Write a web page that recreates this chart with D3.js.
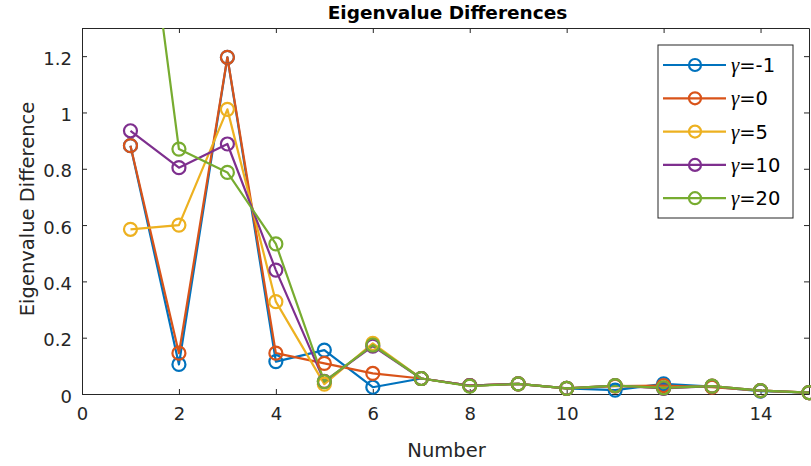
<!DOCTYPE html>
<html><head><meta charset="utf-8">
<script src="https://cdn.jsdelivr.net/npm/d3@7"></script>
<style>body{margin:0;background:#fff;} svg{display:block;}</style>
</head><body>
<svg id="chart" width="811" height="466"></svg>
<script>
const numbers = [1,2,3,4,5,6,7,8,9,10,11,12,13,14,15];
const seriesNames = ["-1","0","5","10","20"];
const gammaM1 = [0.882,0.105,1.196,0.115,0.156,0.024,0.055,0.03,0.036,0.02,0.014,0.036,0.026,0.01,0.005];
const gamma0  = [0.882,0.145,1.196,0.145,0.109,0.073,0.055,0.03,0.036,0.02,0.028,0.03,0.024,0.012,0.005];
const gamma5  = [0.585,0.60,1.011,0.328,0.035,0.18,0.055,0.03,0.036,0.02,0.03,0.022,0.028,0.012,0.005];
const gamma10 = [0.935,0.804,0.888,0.44,0.045,0.17,0.055,0.03,0.036,0.02,0.03,0.02,0.028,0.012,0.005];
const gamma20 = [2.19,0.87,0.787,0.533,0.044,0.174,0.055,0.028,0.036,0.02,0.03,0.022,0.028,0.012,0.005];
const seriesValues = [gammaM1, gamma0, gamma5, gamma10, gamma20];
const colors = ["#0072BD","#D95319","#EDB120","#7E2F8E","#77AC30"];
const xTicks = [0,2,4,6,8,10,12,14];
const yTicks = [0,0.2,0.4,0.6,0.8,1,1.2];
const yTickLabels = ["0","0.2","0.4","0.6","0.8","1","1.2"];

const svg = d3.select("#chart");
const L = 82, R = 809, T = 28, B = 394;
const x = d3.scaleLinear().domain([0,15]).range([L,R]);
const y = d3.scaleLinear().domain([0,1.3]).range([B,T]);
const axisColor = "#262626";
const font = "'DejaVu Sans', Verdana, sans-serif";

svg.append("defs").append("clipPath").attr("id","clip")
  .append("rect").attr("x",L).attr("y",T).attr("width",R-L).attr("height",B-T);

const gx = svg.append("g").attr("transform",`translate(0,${B})`)
  .call(d3.axisBottom(x).tickValues(xTicks).tickSizeInner(-5).tickSizeOuter(0).tickPadding(13).tickFormat(d3.format("d")));
const gxTop = svg.append("g").attr("transform",`translate(0,${T})`)
  .call(d3.axisTop(x).tickValues(xTicks).tickSizeInner(-5).tickSizeOuter(0).tickFormat(""));
const gy = svg.append("g").attr("transform",`translate(${L},0)`)
  .call(d3.axisLeft(y).tickValues(yTicks).tickSizeInner(-5).tickSizeOuter(0).tickPadding(10).tickFormat((d,i)=>yTickLabels[i]));
const gyR = svg.append("g").attr("transform",`translate(${R},0)`)
  .call(d3.axisRight(y).tickValues(yTicks).tickSizeInner(-5).tickSizeOuter(0).tickFormat(""));
[gx,gxTop,gy,gyR].forEach(g=>{
  g.select(".domain").attr("stroke",axisColor).attr("stroke-width",1);
  g.selectAll(".tick line").attr("stroke",axisColor).attr("stroke-width",1);
  g.selectAll(".tick text").attr("fill",axisColor).style("font-family",font).style("font-size","18px");
});
gy.selectAll(".tick text").attr("dy","0.45em");

const plot = svg.append("g").attr("clip-path","url(#clip)");
const line = d3.line().x((d,i)=>x(numbers[i])).y(d=>y(d));
seriesValues.forEach((vals,si)=>{
  plot.append("path").datum(vals).attr("d",line).attr("fill","none")
    .attr("stroke",colors[si]).attr("stroke-width",2.2).attr("stroke-linejoin","round");
});
const markers = svg.append("g");
seriesValues.forEach((vals,si)=>{
  markers.selectAll(null).data(vals.map((v,i)=>[numbers[i],v]).filter(d=>d[1]<=1.3))
    .enter().append("circle")
    .attr("cx",d=>x(d[0])).attr("cy",d=>y(d[1])).attr("r",6.5)
    .attr("fill","none").attr("stroke",colors[si]).attr("stroke-width",2.2);
});

svg.append("text").attr("x",(L+R)/2+2).attr("y",19).attr("text-anchor","middle")
  .style("font-family",font).style("font-weight","bold").style("font-size","18.5px").attr("fill","#000")
  .text("Eigenvalue Differences");
svg.append("text").attr("x",(L+R)/2+1).attr("y",457).attr("text-anchor","middle")
  .style("font-family",font).style("font-size","19.5px").attr("fill",axisColor).text("Number");
svg.append("text").attr("transform",`translate(34,${(T+B)/2-2}) rotate(-90)`).attr("text-anchor","middle")
  .style("font-family",font).style("font-size","19.5px").attr("fill",axisColor).text("Eigenvalue Difference");

const lg = svg.append("g");
lg.append("rect").attr("x",658).attr("y",45).attr("width",135).attr("height",173)
  .attr("fill","#fff").attr("stroke",axisColor).attr("stroke-width",1);
seriesNames.forEach((name,i)=>{
  const yy = 65 + i*33.3;
  lg.append("line").attr("x1",663).attr("x2",726).attr("y1",yy).attr("y2",yy)
    .attr("stroke",colors[i]).attr("stroke-width",2.2);
  lg.append("circle").attr("cx",695).attr("cy",yy).attr("r",6).attr("fill","none")
    .attr("stroke",colors[i]).attr("stroke-width",2.2);
  const t = lg.append("text").attr("x",731).attr("y",yy+7).attr("fill","#000").style("font-size","19.5px");
  t.append("tspan").style("font-family","'Liberation Serif','DejaVu Serif',serif").style("font-style","italic").style("font-size","21px").text("γ");
  t.append("tspan").style("font-family",font).text("="+name);
});
</script>
</body></html>
